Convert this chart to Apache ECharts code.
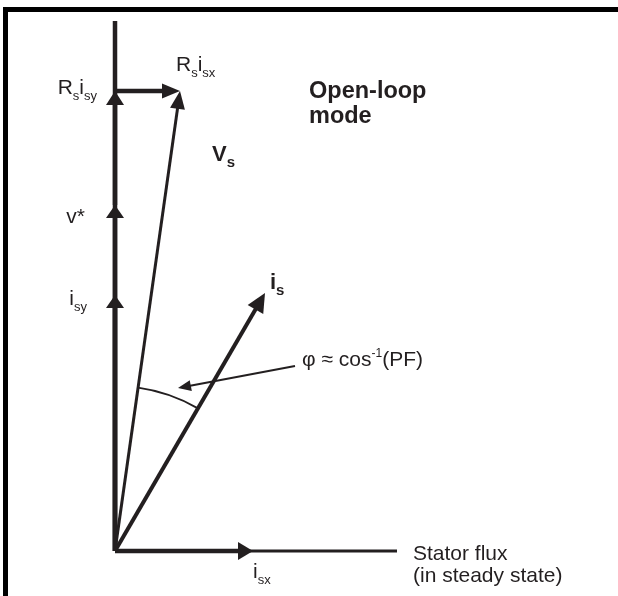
<!DOCTYPE html>
<html>
<head>
<meta charset="utf-8">
<script src="https://cdn.jsdelivr.net/npm/echarts@6/dist/echarts.min.js"></script>
<style>
html,body{margin:0;padding:0;background:#ffffff;}
#c{width:618px;height:596px;}
</style>
</head>
<body>
<div id="c"></div>
<script>
// ---- Diagram values (units measured from the origin of the two axes, y upward) ----
const vectorNames  = ['i_sx', 'i_sy', 'v*', 'R_s i_sy', 'R_s i_sx', 'V_s', 'i_s'];
const vectorLabels = ['{m|i}{s|sx}', '{m|i}{s|sy}', '{m|v*}', '{m|R}{s|s}{m|i}{s|sy}', '{m|R}{s|s}{m|i}{s|sx}', '{b|V}{bs|s}', '{b|i}{bs|s}'];
const vectorStartX = [0,   0,   0,   0,   0,   0,   0];
const vectorStartY = [0,   0,   0,   346, 460, 0,   0];
const vectorEndX   = [138, 0,   0,   0,   65,  65,  150];
const vectorEndY   = [0,   256, 346, 460, 460, 460, 258];

const axisNames = ['Stator flux', 'quadrature'];
const axisEndX  = [282, 0];
const axisEndY  = [0, 530];
const fluxAxisLabel = ['Stator flux', '(in steady state)'];

const phiArcRadius = 165;
const phiPointerFrom = [180, 185];
const phiPointerTo = [63, 163];
const phiLabel = '{m|φ ≈ }{m|cos}{p|-1}{m|(PF)}';

const modeTitle = ['Open-loop', 'mode'];

// ---- Styles / layout ----
const INK = '#231f20';
const FONT = '"Liberation Sans", Arial, Helvetica, sans-serif';
const rich = {
  m:  {fontSize: 21, fontFamily: FONT, lineHeight: 21, padding: [6, 0, 0, 0], verticalAlign: 'top', fill: INK},
  s:  {fontSize: 13, fontFamily: FONT, lineHeight: 13, padding: [18, 0, 0, 0], verticalAlign: 'top', fill: INK},
  b:  {fontSize: 22, fontFamily: FONT, fontWeight: 'bold', lineHeight: 22, padding: [5.4, 0, 0, 0], verticalAlign: 'top', fill: INK},
  bs: {fontSize: 15, fontFamily: FONT, fontWeight: 'bold', lineHeight: 15, padding: [16.3, 0, 0, 0], verticalAlign: 'top', fill: INK},
  p:  {fontSize: 12, fontFamily: FONT, lineHeight: 12, padding: [3.8, 0, 0, 0], verticalAlign: 'top', fill: INK}
};
const RICH_BASELINE = 24; // baseline of main tokens below the top of a rich block

const vectorStyle = {
  'i_sx':     {w: 4.5, len: 15, half: 9,   lab: {align: 'left',  dx: 0,   dy: 29}},
  'i_sy':     {w: 4.5, len: 13, half: 9,   lab: {align: 'right', dx: -28, dy: 12}},
  'v*':       {w: 4.5, len: 13, half: 9,   lab: {align: 'right', dx: -30, dy: 20}},
  'R_s i_sy': {w: 4.5, len: 14, half: 9,   lab: {align: 'right', dx: -18, dy: 5}},
  'R_s i_sx': {w: 4.5, len: 18, half: 7.5, lab: {align: 'left',  dx: -4,  dy: -18}},
  'V_s':      {w: 3,   len: 18, half: 7.5, lab: {align: 'left',  dx: 32,  dy: 72}},
  'i_s':      {w: 4,   len: 19, half: 9,   lab: {align: 'left',  dx: 5,   dy: -2}}
};
const axisWidth = [3, 4.5];

function arrowHead(tip, from, len, half) {
  const dx = tip[0] - from[0], dy = tip[1] - from[1];
  const d = Math.hypot(dx, dy) || 1;
  const ux = dx / d, uy = dy / d;
  const bx = tip[0] - ux * len, by = tip[1] - uy * len;
  return {
    points: [[tip[0], tip[1]], [bx - uy * half, by + ux * half], [bx + uy * half, by - ux * half]],
    base: [tip[0] - ux * (len - 2), tip[1] - uy * (len - 2)]
  };
}

function richText(text, x, baseline, align) {
  return {
    type: 'text',
    style: {text: text, x: x, y: baseline - RICH_BASELINE, align: align, verticalAlign: 'top', rich: rich, fill: INK}
  };
}

function plainText(text, x, baseline, size, weight) {
  return {
    type: 'text',
    style: {
      text: text, x: x, y: baseline - 0.3465 * size, align: 'left', verticalAlign: 'middle',
      fontSize: size, fontFamily: FONT, fontWeight: weight || 'normal', fill: INK
    }
  };
}

const chart = echarts.init(document.getElementById('c'), null, {renderer: 'canvas'});

chart.setOption({
  animation: false,
  backgroundColor: '#ffffff',
  grid: {left: 0, right: 0, top: 0, bottom: 0},
  xAxis: {type: 'value', min: -115, max: 503, show: false},
  yAxis: {type: 'value', min: -45, max: 551, show: false},
  graphic: [
    {type: 'rect', z: 1, shape: {x: 5.5, y: 9.5, width: 700, height: 700},
     style: {stroke: '#000000', lineWidth: 5, fill: null}},
    Object.assign(plainText(modeTitle[0], 309, 100, 23.5, 'bold'), {z: 5}),
    Object.assign(plainText(modeTitle[1], 309, 125, 23.5, 'bold'), {z: 5})
  ],
  series: [
    {
      name: 'axes',
      type: 'custom',
      coordinateSystem: 'cartesian2d',
      clip: false,
      z: 2,
      data: axisNames.map((n, i) => [0, 0, axisEndX[i], axisEndY[i]]),
      encode: {x: [0, 2], y: [1, 3]},
      renderItem(params, api) {
        const i = params.dataIndex;
        const p0 = api.coord([api.value(0), api.value(1)]);
        const p1 = api.coord([api.value(2), api.value(3)]);
        const children = [{
          type: 'line',
          shape: {x1: p0[0], y1: p0[1], x2: p1[0], y2: p1[1]},
          style: {stroke: INK, lineWidth: axisWidth[i], lineCap: 'butt'}
        }];
        if (i === 0) {
          children.push(plainText(fluxAxisLabel[0], p1[0] + 16, p1[1] + 10, 21));
          children.push(plainText(fluxAxisLabel[1], p1[0] + 16, p1[1] + 32, 21));
        }
        return {type: 'group', children: children};
      }
    },
    {
      name: 'vectors',
      type: 'custom',
      coordinateSystem: 'cartesian2d',
      clip: false,
      z: 3,
      data: vectorNames.map((n, i) => [vectorStartX[i], vectorStartY[i], vectorEndX[i], vectorEndY[i]]),
      encode: {x: [0, 2], y: [1, 3]},
      renderItem(params, api) {
        const i = params.dataIndex;
        const st = vectorStyle[vectorNames[i]];
        const p0 = api.coord([api.value(0), api.value(1)]);
        const p1 = api.coord([api.value(2), api.value(3)]);
        const head = arrowHead(p1, p0, st.len, st.half);
        return {
          type: 'group',
          children: [
            {type: 'line', shape: {x1: p0[0], y1: p0[1], x2: head.base[0], y2: head.base[1]},
             style: {stroke: INK, lineWidth: st.w, lineCap: 'butt'}},
            {type: 'polygon', shape: {points: head.points}, style: {fill: INK}},
            richText(vectorLabels[i], p1[0] + st.lab.dx, p1[1] + st.lab.dy, st.lab.align)
          ]
        };
      }
    },
    {
      name: 'phi',
      type: 'custom',
      coordinateSystem: 'cartesian2d',
      clip: false,
      z: 4,
      data: [[phiPointerFrom[0], phiPointerFrom[1], phiPointerTo[0], phiPointerTo[1]]],
      encode: {x: [0, 2], y: [1, 3]},
      renderItem(params, api) {
        const o = api.coord([0, 0]);
        const vs = api.coord([vectorEndX[5], vectorEndY[5]]);
        const is = api.coord([vectorEndX[6], vectorEndY[6]]);
        const rPt = api.coord([phiArcRadius, 0]);
        const r = rPt[0] - o[0];
        const a0 = Math.atan2(vs[1] - o[1], vs[0] - o[0]);
        const a1 = Math.atan2(is[1] - o[1], is[0] - o[0]);
        const pFrom = api.coord([api.value(0), api.value(1)]);
        const pTo = api.coord([api.value(2), api.value(3)]);
        const head = arrowHead(pTo, pFrom, 13, 5.5);
        return {
          type: 'group',
          children: [
            {type: 'arc', shape: {cx: o[0], cy: o[1], r: r, startAngle: a0, endAngle: a1, clockwise: true},
             style: {stroke: INK, lineWidth: 2, fill: null}},
            {type: 'line', shape: {x1: pFrom[0], y1: pFrom[1], x2: head.base[0], y2: head.base[1]},
             style: {stroke: INK, lineWidth: 2}},
            {type: 'polygon', shape: {points: head.points}, style: {fill: INK}},
            richText(phiLabel, pFrom[0] + 7, pFrom[1] + 2, 'left')
          ]
        };
      }
    }
  ]
});
</script>
</body>
</html>
